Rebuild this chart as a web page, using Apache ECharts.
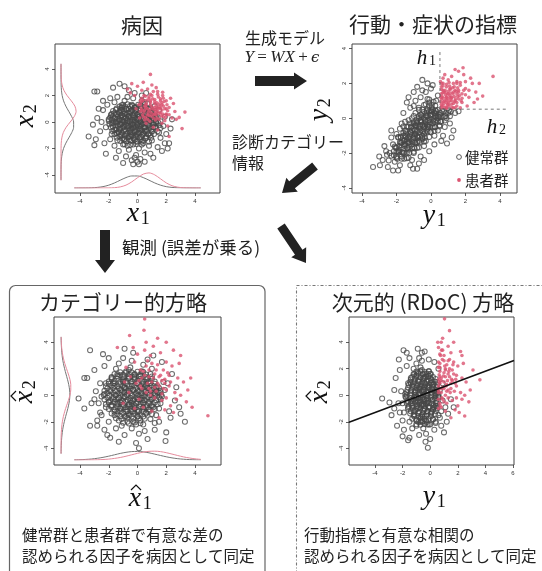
<!DOCTYPE html>
<html><head><meta charset="utf-8">
<script src="https://cdn.jsdelivr.net/npm/echarts@6/dist/echarts.min.js"></script>
<style>html,body{margin:0;padding:0;background:#fff}#c{width:542px;height:571px}</style>
</head><body><div id="c"></div>
<script>
// ---------- data ----------
const tickRange = [-4, 4];
const tickRange6 = [-4, 6];
const tickStep = 2;
const h1 = 0.52, h2 = 0.52;
const fitCoef = [0.25, 0.39]; // intercept, slope of the regression of x2-hat on y1

// Panel 1: latent causes (x1, x2)
const p1Healthy = [[-0.3,-0.2],[0.1,0.4],[-0.8,0.3],[-1.2,-0.5],[0.5,-0.7],[-0.6,-1.1],[0.2,-0.3],[-0.1,0.9],[-1.5,0.6],[-0.9,-0.2],
[0.8,0.1],[-0.4,1.3],[-1.8,-0.9],[0.3,-1.5],[-0.7,0.7],[1.1,-0.4],[-1.1,1.1],[-0.2,-0.8],[0.6,0.6],[-1.4,-1.4],
[-0.5,0.0],[0.0,-1.1],[-1.0,0.0],[0.4,0.2],[-0.3,-1.7],[-2.0,0.2],[0.9,-1.0],[-0.8,-0.7],[-1.6,1.5],[0.2,1.2],
[-0.1,-0.4],[-0.6,0.4],[1.3,0.3],[-1.3,0.2],[-0.4,-0.5],[0.7,-0.2],[-2.2,-0.4],[-0.9,1.6],[0.1,-2.0],[-1.1,-1.0],
[0.5,0.9],[-0.2,0.3],[-1.7,-0.1],[1.0,-1.4],[-0.5,-1.4],[-2.4,0.9],[0.3,-0.6],[-0.7,-0.3],[-1.2,0.9],[0.0,0.6],
[1.5,-0.8],[-0.3,1.8],[-1.9,-1.3],[0.8,-1.8],[-0.1,-1.5],[-2.6,-0.7],[1.2,0.7],[-0.8,1.0],[-1.5,-0.6],[0.4,-0.9],
[-0.6,-2.1],[0.2,0.0],[-1.0,-1.7],[1.8,-0.3],[-1.4,1.9],[-0.4,0.9],[0.6,-1.2],[-2.1,1.3],[-0.9,-1.3],[0.0,-0.2],
[-1.3,-2.2],[1.6,-1.2],[-0.2,2.2],[-2.8,0.3],[0.7,1.4],[-0.5,-0.8],[-1.8,0.6],[0.3,1.6],[-1.6,-1.8],[1.0,-0.7],
[-0.1,-2.5],[0.9,0.4],[-1.1,0.5],[-2.3,-1.6],[0.5,-2.3],[-0.7,1.9],[1.4,-1.9],[-0.3,0.5],[-1.2,-0.2],[0.1,-0.8],
[-2.5,0.0],[-0.6,2.4],[2.0,-0.9],[-1.9,1.8],[0.4,-1.6],[-0.8,-2.6],[1.3,-0.1],[-1.5,0.0],[0.2,-2.8],[-0.4,-2.9],
[-3.4,-1.1],[-3.0,-1.75],[-1.25,2.9],[-3.0,2.3],[-2.8,2.3],[0.0,-3.0],[-0.2,-2.7],[0.5,-3.0],[-1.0,-3.1],[2.2,-1.6],
[1.7,-2.2],[-2.2,-2.4],[-3.1,-0.2],[-2.7,1.0],[1.1,-2.7],[-1.7,2.6],[-0.9,2.7],[0.3,2.0],[2.3,-0.5],[1.9,-1.6],
[-2.9,-1.3],[-1.5,-2.7],[0.9,-2.4],[-0.3,-3.2],[0.1,-3.2],[2.1,-2.0],[-2.4,1.6],[-0.7,-1.8],[0.6,0.3],[-0.2,1.1],
[-1.0,1.3],[-0.5,-0.3],[0.0,0.2],[-0.9,0.6],[-0.4,-1.0],[0.3,-0.2],[-1.3,-0.8],[-0.7,0.1],[0.5,-0.4],[-0.1,0.0],
[0.8,1.0],[1.2,1.2],[0.5,1.5],[1.5,0.9],[1.0,0.5],[0.6,2.2],[1.9,0.4],[2.4,0.2],
[-1.1,1.27],[-0.7,1.34],[-0.35,1.22],[0.05,1.31],[0.4,1.38],
[-1.45,1.02],[-1.05,1.09],[-0.6,0.98],[-0.2,1.07],[0.2,1.01],[0.55,1.12],[0.9,1.04],
[-1.7,0.83],[-1.3,0.76],[-0.95,0.85],[-0.5,0.78],[-0.15,0.84],[0.3,0.75],[0.65,0.86],[1.0,0.79],
[-1.85,0.52],[-1.4,0.58],[-1.1,0.49],[-0.75,0.57],[-0.35,0.51],[0.1,0.59],[0.45,0.53],[0.8,0.56],[1.2,0.5],
[-1.9,0.33],[-1.55,0.26],[-1.2,0.35],[-0.85,0.28],[-0.45,0.32],[-0.05,0.25],[0.35,0.34],[0.7,0.27],[1.05,0.31],[1.4,0.36],
[-2.0,0.07],[-1.6,0.01],[-1.25,0.09],[-0.9,0.03],[-0.55,0.08],[-0.2,0.02],[0.2,0.06],[0.55,-0.01],[0.95,0.08],[1.3,0.03],[1.6,0.05],
[-1.95,-0.17],[-1.55,-0.24],[-1.15,-0.16],[-0.8,-0.23],[-0.4,-0.18],[0.0,-0.25],[0.4,-0.15],[0.75,-0.22],[1.1,-0.19],[1.5,-0.24],
[-1.85,-0.42],[-1.45,-0.49],[-1.05,-0.41],[-0.65,-0.47],[-0.3,-0.43],[0.1,-0.5],[0.5,-0.44],[0.85,-0.48],[1.25,-0.42],[1.6,-0.46],
[-1.75,-0.68],[-1.35,-0.74],[-0.95,-0.66],[-0.55,-0.72],[-0.15,-0.69],[0.25,-0.75],[0.65,-0.67],[1.0,-0.73],[1.4,-0.7],
[-1.6,-0.93],[-1.2,-0.99],[-0.8,-0.91],[-0.45,-0.97],[-0.05,-0.92],[0.35,-0.98],[0.75,-0.94],[1.15,-0.9],
[-1.45,-1.18],[-1.05,-1.24],[-0.65,-1.16],[-0.25,-1.22],[0.15,-1.17],[0.55,-1.23],[0.95,-1.19],
[-1.2,-1.43],[-0.8,-1.48],[-0.4,-1.41],[0.0,-1.47],[0.4,-1.42],[0.8,-1.49],
[-0.9,-1.68],[-0.5,-1.73],[-0.1,-1.66],[0.3,-1.71],
[-1.25,1.18],[-0.88,1.15],[-0.52,1.2],[-0.12,1.14],[0.25,1.19],
[-1.5,0.93],[-1.12,0.9],[-0.75,0.95],[-0.35,0.91],[0.05,0.94],[0.45,0.89],[0.8,0.92],
[-1.62,0.66],[-1.25,0.69],[-0.9,0.65],[-0.55,0.7],[-0.18,0.64],[0.22,0.68],[0.6,0.66],[0.95,0.71],
[-1.72,0.41],[-1.35,0.44],[-0.98,0.4],[-0.62,0.45],[-0.25,0.39],[0.15,0.43],[0.52,0.4],[0.9,0.44],[1.25,0.41],
[-1.78,0.16],[-1.4,0.19],[-1.05,0.15],[-0.7,0.2],[-0.32,0.14],[0.05,0.18],[0.42,0.15],[0.8,0.19],[1.15,0.16],
[-1.8,-0.09],[-1.42,-0.06],[-1.08,-0.1],[-0.72,-0.05],[-0.35,-0.11],[0.02,-0.07],[0.38,-0.1],[0.75,-0.05],[1.12,-0.09],[1.45,-0.06],
[-1.72,-0.34],[-1.35,-0.31],[-0.98,-0.35],[-0.62,-0.3],[-0.25,-0.36],[0.12,-0.32],[0.5,-0.35],[0.88,-0.3],[1.25,-0.34],
[-1.62,-0.59],[-1.25,-0.56],[-0.9,-0.6],[-0.52,-0.55],[-0.15,-0.61],[0.22,-0.57],[0.6,-0.6],[0.95,-0.56],
[-1.45,-0.84],[-1.08,-0.81],[-0.72,-0.85],[-0.35,-0.8],[0.02,-0.86],[0.4,-0.82],[0.78,-0.85],
[-1.25,-1.09],[-0.88,-1.06],[-0.5,-1.1],[-0.12,-1.05],[0.25,-1.11],[0.62,-1.07],
[-0.95,-1.34],[-0.58,-1.31],[-0.2,-1.35],[0.18,-1.3]];
const p1Patient = [[1.0,1.0],[0.6,1.4],[1.4,0.8],[0.8,0.5],[1.7,1.3],[0.3,1.8],[1.2,1.7],[2.0,0.6],[0.5,0.9],[1.5,0.2],
[0.9,2.1],[2.2,1.1],[0.1,1.3],[1.1,0.3],[1.8,1.8],[0.4,0.4],[1.3,1.2],[2.4,0.3],[0.7,2.5],[1.6,0.7],
[-0.2,2.0],[2.0,1.6],[0.9,1.5],[1.2,0.6],[0.2,0.8],[2.6,0.8],[1.9,0.1],[0.6,-0.1],[1.4,2.3],[-0.1,1.0],
[2.1,-0.3],[0.8,1.9],[1.7,-0.1],[0.3,2.4],[1.0,2.8],[2.3,1.8],[1.5,1.0],[0.0,2.7],[1.1,-0.4],[2.7,0.2],
[3.3,0.75],[2.9,0.35],[3.1,-0.5],[0.9,3.6],[-0.4,2.9],[1.75,2.0],[2.2,-1.1],[-0.7,2.5],[0.4,3.0],[1.3,2.6],
[-0.5,2.2],[2.5,1.4],[0.6,1.1],[1.8,0.4],[1.2,1.4],[0.7,0.2],[2.0,1.0],[1.6,1.6],[0.2,1.6],[1.4,-0.6],
[0.35,0.55],[0.75,0.75],[1.15,0.95],[1.55,1.2],[0.5,1.2],[0.9,1.3],[1.3,0.55],[1.7,0.9],[2.05,1.3],[0.25,1.05],
[0.65,1.65],[1.05,1.75],[1.45,1.9],[1.85,1.55],[0.45,2.0],[0.85,0.05],[1.25,0.15],[1.65,0.45],[2.1,0.85],[0.15,0.3],
[0.55,0.35],[0.95,0.7],[1.35,1.45],[1.75,2.25],[1.1,2.3],[0.7,1.0],[1.5,0.65],[1.95,0.35],[0.3,1.55],[1.2,1.1],
[0.45,0.75],[0.85,0.9],[1.25,0.75],[1.6,1.05],[0.6,1.3],[1.0,1.15],[1.4,1.05],[1.8,1.2],[0.4,1.65],[0.8,1.75],
[1.2,1.55],[1.6,1.75],[0.95,0.45],[1.35,0.3],[1.75,0.6],[0.3,0.9],[0.7,0.55],[1.1,0.55],[1.5,1.35],[1.9,1.0],
[0.55,1.95],[1.0,2.0],[1.4,2.1],[2.0,0.55],[0.2,1.35],[1.3,0.9],[0.9,1.6],[1.7,1.45],[0.5,0.15],[2.2,0.55]];

// Panel 2: behaviour / symptom indices (y1, y2)
const p2Healthy = [[-0.5,-0.4],[-1.0,-0.6],[-0.2,0.1],[-1.4,-1.2],[0.1,-0.3],[-0.8,-1.0],[-1.2,-0.3],[-0.4,-0.9],[-1.7,-1.4],[0.2,0.3],
[-0.6,0.2],[-1.1,-1.5],[-0.3,-0.2],[-1.9,-1.1],[0.0,-0.8],[-0.9,-0.4],[-1.5,-0.7],[-0.7,-1.3],[0.3,-0.1],[-1.3,-1.8],
[-0.1,0.4],[-2.0,-1.7],[-0.5,-1.2],[-0.9,0.3],[0.4,0.0],[-1.6,-2.0],[-0.2,-0.6],[-1.2,-0.9],[-0.7,0.6],[-2.2,-1.5],
[0.1,0.5],[-0.4,-1.6],[-1.8,-0.6],[-0.8,-0.2],[0.5,-0.4],[-1.4,-2.3],[-0.3,0.8],[-1.0,-1.1],[-2.4,-2.0],[0.2,-1.0],
[-0.6,-0.7],[-1.5,-0.2],[-0.1,-0.1],[-2.1,-2.5],[-0.9,1.0],[0.4,-0.7],[-1.1,0.0],[-1.7,-2.2],[-0.5,0.5],[-2.6,-1.9],
[0.0,0.2],[-0.3,-1.3],[-1.3,-1.4],[-0.8,-1.7],[0.3,0.4],[-1.9,-1.9],[-0.6,1.2],[-1.0,-2.0],[0.6,-0.2],[-2.3,-1.1],
[-0.2,1.1],[-1.4,-0.5],[-0.7,-0.5],[-1.6,-1.0],[0.5,0.2],[-0.4,0.0],[-2.8,-2.4],[0.8,-0.5],[-1.2,0.6],[-0.1,-1.9],
[-1.8,-2.7],[-0.5,1.6],[0.9,0.0],[-2.5,-2.8],[-1.0,0.7],[0.2,-1.5],[-1.5,-1.5],[-0.9,-0.9],[-0.3,1.5],[1.1,-0.3],
[-2.0,-0.9],[-0.6,-2.2],[0.7,-1.0],[-1.3,1.2],[-0.8,1.8],[-2.2,-3.0],[1.0,0.3],[-0.1,0.9],[-1.7,-0.3],[-0.4,-2.4],
[-3.36,-2.8],[-2.96,-2.7],[-2.55,-2.1],[-1.9,-3.0],[-1.04,-2.9],[1.4,0.3],[0.93,-1.45],[-1.2,-2.7],[-0.7,-2.6],[-2.7,-1.6],
[-3.0,-2.2],[1.3,-0.7],[0.6,-1.3],[-0.2,2.0],[-0.5,2.2],[-1.0,1.5],[-1.6,0.3],[0.0,1.7],[-2.3,-0.7],[-1.1,-2.4],
[1.6,0.4],[1.2,-1.1],[0.4,1.3],[0.1,1.9],[-1.4,0.9],[-0.8,-2.9],[-2.0,-2.2],[-0.2,-0.4],[-0.6,-0.1],[-1.1,-0.7],
[-0.4,-0.5],[-0.9,-1.4],[-0.2,0.5],[-1.3,-1.1],[0.2,-0.5],[-0.7,0.0],[-1.0,-0.3],[-0.5,-1.0],[0.3,0.1],[-1.6,-1.3],
[-2.3,-2.15],[-2.0,-1.92],[-1.7,-1.55],[-1.4,-1.33],[-1.1,-0.96],[-0.8,-0.72],[-0.5,-0.37],[-0.2,-0.13],[0.1,0.22],[0.4,0.47],
[-2.1,-1.62],[-1.8,-1.38],[-1.5,-1.02],[-1.2,-0.77],[-0.9,-0.43],[-0.6,-0.18],[-0.3,0.17],[0.0,0.41],[0.25,0.72],
[-2.0,-2.27],[-1.7,-1.93],[-1.4,-1.68],[-1.1,-1.32],[-0.8,-1.07],[-0.5,-0.73],[-0.2,-0.48],[0.1,-0.12],[0.4,0.13],[0.65,0.42],
[-1.9,-1.08],[-1.6,-0.83],[-1.3,-0.47],[-1.0,-0.22],[-0.7,0.12],[-0.4,0.37],[-0.1,0.73],[0.15,0.94],
[-1.7,-2.33],[-1.4,-1.98],[-1.1,-1.72],[-0.8,-1.38],[-0.5,-1.13],[-0.2,-0.77],[0.1,-0.53],[0.4,-0.18],[0.75,0.07],[1.05,0.45],
[-1.6,-0.47],[-1.3,-0.12],[-1.0,0.13],[-0.7,0.48],[-0.4,0.76],[-0.1,1.07],
[-1.3,-2.27],[-1.0,-1.93],[-0.7,-1.68],[-0.4,-1.33],[-0.1,-1.08],[0.2,-0.72],[0.5,-0.47],[0.8,-0.13],[1.1,0.12],
[-2.15,-1.9],[-1.85,-1.6],[-1.55,-1.27],[-1.25,-1.03],[-0.95,-0.68],[-0.65,-0.42],[-0.35,-0.12],[-0.05,0.18],[0.25,0.45],
[-1.85,-1.95],[-1.55,-1.6],[-1.25,-1.38],[-0.95,-1.02],[-0.65,-0.8],[-0.35,-0.45],[-0.05,-0.22],[0.25,0.12],[0.55,0.3],
[-1.75,-1.12],[-1.45,-0.87],[-1.15,-0.55],[-0.85,-0.28],[-0.55,0.05],[-0.25,0.3],[0.05,0.6],
[-1.55,-2.0],[-1.25,-1.65],[-0.95,-1.4],[-0.65,-1.06],[-0.35,-0.82],[-0.05,-0.48],[0.25,-0.22],[0.55,0.1],[0.85,0.3],
[-2.05,-1.68],[-1.75,-1.42],[-1.45,-1.08],[-1.15,-0.82],[-0.85,-0.48],[-0.55,-0.22],[-0.25,0.12],[0.05,0.38],
[-1.95,-2.32],[-1.65,-1.98],[-1.35,-1.72],[-1.05,-1.38],[-0.75,-1.12],[-0.45,-0.78],[-0.15,-0.52],[0.15,-0.18],[0.45,0.08],[0.75,0.42],
[-1.75,-1.07],[-1.45,-0.73],[-1.15,-0.47],[-0.85,-0.13],[-0.55,0.17],[-0.25,0.43],[0.05,0.77],[0.3,1.0],
[-1.55,-2.32],[-1.25,-1.98],[-0.95,-1.72],[-0.65,-1.38],[-0.35,-1.12],[-0.05,-0.78],[0.25,-0.52],[0.55,-0.18],[0.85,0.12],[1.15,0.38],
[-2.45,-2.42],[-2.15,-2.12],[-1.85,-1.82],[-1.55,-1.5],[-1.25,-1.22],[-0.95,-0.92],[-0.65,-0.6],[-0.35,-0.32],[-0.05,-0.02],[0.25,0.28]];
const p2Patient = [[0.8,1.0],[1.1,1.3],[0.7,0.7],[1.4,1.6],[0.9,1.8],[1.6,1.1],[0.6,1.4],[1.2,0.8],[2.0,1.7],[1.0,2.2],
[1.8,0.9],[0.7,2.0],[1.5,2.1],[1.3,0.6],[2.2,1.2],[0.9,0.6],[1.7,1.9],[0.6,1.1],[2.4,2.0],[1.1,1.7],
[1.9,2.5],[0.8,2.5],[1.4,1.0],[2.6,1.5],[1.0,1.4],[1.6,2.7],[0.7,1.6],[2.1,0.7],[1.2,2.4],[3.6,2.4],
[3.0,1.27],[1.86,2.9],[2.3,2.3],[1.5,0.7],[0.9,1.2],[2.8,2.0],[1.3,2.0],[0.6,0.8],[1.8,1.4],[2.5,0.9],
[1.1,1.0],[0.8,1.5],[1.5,1.4],[2.0,2.1],[1.0,0.8],[1.7,0.6],[0.7,2.3],[2.2,1.6],[1.4,2.8],[0.6,1.8],
[1.2,1.2],[0.9,0.9],[1.6,1.6],[2.7,1.1],[1.3,1.5],
[0.6,0.6],[0.75,0.85],[0.9,1.05],[1.05,0.7],[1.2,1.0],[0.65,1.25],[0.85,1.35],[1.0,1.55],[1.35,1.25],[1.5,0.9],
[0.58,0.95],[0.7,1.15],[1.15,1.45],[1.3,0.85],[0.95,0.75],[1.1,1.2],[0.8,0.62],[1.45,1.55],[1.65,1.3],[0.62,1.65],
[1.25,1.75],[0.9,1.95],[1.55,1.75],[1.8,1.15],[0.55,2.1],[2.0,1.35],[1.05,2.05],[0.75,1.5],[1.4,0.6],[1.7,2.05],
[0.62,0.7],[0.72,0.95],[0.88,1.2],[1.02,0.9],[1.18,1.15],[0.68,1.45],[0.95,1.4],[1.12,1.65],[1.28,1.4],[1.42,1.1],
[0.6,1.2],[0.82,1.6],[1.22,0.62],[1.38,0.95],[0.98,1.1],[1.55,1.25],[0.9,0.58],[1.08,1.85],[1.35,1.8],[0.7,1.85],
[1.6,1.5],[1.75,1.0],[1.5,2.0],[0.62,2.0],[1.9,1.6]];

// Panel 3: observed factors (x1-hat, x2-hat)
const p3Healthy = [[-0.3,-0.3],[0.5,0.6],[-1.2,0.4],[-1.8,-0.8],[0.8,-1.1],[-0.9,-1.6],[0.3,-0.4],[-0.2,1.3],[-2.2,0.9],[-1.3,-0.2],
[1.2,0.1],[-0.6,1.9],[-2.6,-1.3],[0.4,-2.2],[-1.0,1.0],[1.6,-0.6],[-1.6,1.6],[-0.3,-1.2],[0.9,0.9],[-2.0,-2.0],
[-0.7,0.0],[0.0,-1.6],[-1.5,0.0],[0.6,0.3],[-0.4,-2.5],[-2.9,0.3],[1.3,-1.5],[-1.2,-1.0],[-2.3,2.2],[0.3,1.8],
[-0.1,-0.6],[-0.9,0.6],[1.9,0.4],[-1.9,0.3],[-0.6,-0.7],[1.0,-0.3],[-3.2,-0.6],[-1.3,2.4],[0.1,-2.9],[-1.6,-1.5],
[0.7,1.3],[-0.3,0.4],[-2.5,-0.1],[1.5,-2.0],[-0.7,-2.0],[-3.5,1.3],[0.4,-0.9],[-1.0,-0.4],[-1.8,1.3],[0.0,0.9],
[2.2,-1.2],[-0.4,2.6],[-2.8,-1.9],[1.2,-2.6],[-0.1,-2.2],[-3.7,-1.0],[1.8,1.0],[-1.2,1.5],[-2.2,-0.9],[0.6,-1.3],
[-0.9,-3.0],[0.3,0.0],[-1.5,-2.5],[2.6,-0.4],[-2.0,2.8],[-0.6,1.3],[0.9,-1.8],[-3.0,1.9],[-1.3,-1.9],[0.0,-0.3],
[-1.9,-3.2],[2.3,-1.7],[-0.3,3.2],[-4.1,-0.25],[1.0,2.0],[-0.7,-1.2],[-2.6,0.9],[0.4,2.3],[-2.3,-2.6],[1.5,-1.0],
[-0.1,-3.6],[1.3,0.6],[-1.6,0.7],[-3.3,-2.3],[0.7,-3.3],[-1.0,2.8],[2.0,-2.8],[-0.4,0.7],[-1.7,-0.3],[0.1,-1.2],
[-3.7,1.3],[-3.3,3.4],[0.1,-4.0],[1.95,-3.45],[-2.8,-2.3],[3.3,-2.0],[2.9,-0.9],[-0.9,3.5],[1.7,2.5],[2.7,0.6],
[-2.4,3.1],[-1.3,-3.5],[0.5,-2.7],[3.0,-1.4],[-2.1,-3.0],[1.1,3.0],[-3.0,-0.3],[-2.5,-1.5],[2.4,1.6],[0.8,-0.6],
[-0.5,-0.4],[-1.1,0.2],[0.2,0.6],[-0.8,-0.9],[0.5,-0.1],[-1.4,-0.6],[-0.2,-1.0],[-1.0,1.1],[0.3,1.1],[-0.6,-1.5],
[1.1,-0.9],[-1.7,0.9],[0.0,0.3],[-0.9,-0.1],[0.6,0.8],[-1.4,-1.2],[-0.2,1.6],[1.4,0.2],[-2.0,-0.5],[0.9,1.6],
[-0.5,2.1],[-1.1,-2.3],[1.7,-0.1],[-2.3,0.1],[0.2,-1.9],[-0.8,1.7],[1.2,-2.1],[-2.7,-0.6],[-0.3,-2.0],[0.7,2.7],
[2.1,0.9],[-1.5,2.0],[-0.1,0.1],[-0.6,0.3],[0.4,-0.6],[-1.2,-0.5],[0.1,1.4],[-0.4,-0.8],[1.0,0.4],[-0.8,0.5],
[-1.2,1.73],[-0.8,1.79],[-0.4,1.71],[0.0,1.77],[0.4,1.75],
[-1.8,1.38],[-1.4,1.44],[-1.0,1.36],[-0.6,1.42],[-0.2,1.39],[0.2,1.45],[0.6,1.37],[1.0,1.41],
[-2.0,1.03],[-1.6,1.08],[-1.2,1.01],[-0.8,1.07],[-0.4,1.04],[0.0,1.09],[0.4,1.02],[0.8,1.06],[1.2,1.03],
[-2.2,0.68],[-1.8,0.74],[-1.4,0.67],[-1.0,0.72],[-0.6,0.69],[-0.2,0.75],[0.2,0.66],[0.6,0.71],[1.0,0.73],[1.4,0.68],
[-2.3,0.33],[-1.9,0.38],[-1.5,0.31],[-1.1,0.37],[-0.7,0.34],[-0.3,0.39],[0.1,0.32],[0.5,0.36],[0.9,0.33],[1.3,0.38],[1.6,0.31],
[-2.35,0.02],[-1.95,-0.03],[-1.55,0.04],[-1.15,-0.02],[-0.75,0.03],[-0.35,-0.04],[0.05,0.01],[0.45,-0.03],[0.85,0.04],[1.25,-0.01],[1.65,0.03],
[-2.3,-0.33],[-1.9,-0.38],[-1.5,-0.31],[-1.1,-0.37],[-0.7,-0.34],[-0.3,-0.39],[0.1,-0.32],[0.5,-0.36],[0.9,-0.33],[1.3,-0.38],[1.6,-0.31],
[-2.2,-0.68],[-1.8,-0.74],[-1.4,-0.67],[-1.0,-0.72],[-0.6,-0.69],[-0.2,-0.75],[0.2,-0.66],[0.6,-0.71],[1.0,-0.73],[1.4,-0.68],
[-2.0,-1.03],[-1.6,-1.08],[-1.2,-1.01],[-0.8,-1.07],[-0.4,-1.04],[0.0,-1.09],[0.4,-1.02],[0.8,-1.06],[1.2,-1.03],
[-1.8,-1.38],[-1.4,-1.44],[-1.0,-1.36],[-0.6,-1.42],[-0.2,-1.39],[0.2,-1.45],[0.6,-1.37],[1.0,-1.41],
[-1.5,-1.73],[-1.1,-1.79],[-0.7,-1.71],[-0.3,-1.77],[0.1,-1.74],[0.5,-1.78],
[-1.0,-2.08],[-0.6,-2.13],[-0.2,-2.06],[0.2,-2.11],
[-1.4,1.58],[-1.0,1.55],[-0.6,1.6],[-0.2,1.54],[0.2,1.59],[0.6,1.56],
[-1.8,1.21],[-1.4,1.24],[-1.0,1.2],[-0.6,1.25],[-0.2,1.19],[0.2,1.23],[0.6,1.2],[1.0,1.24],
[-2.0,0.86],[-1.6,0.89],[-1.2,0.85],[-0.8,0.9],[-0.4,0.84],[0.0,0.88],[0.4,0.85],[0.8,0.89],[1.2,0.86],
[-2.1,0.51],[-1.7,0.54],[-1.3,0.5],[-0.9,0.55],[-0.5,0.49],[-0.1,0.53],[0.3,0.5],[0.7,0.54],[1.1,0.51],[1.5,0.55],
[-2.1,0.16],[-1.7,0.19],[-1.3,0.15],[-0.9,0.2],[-0.5,0.14],[-0.1,0.18],[0.3,0.15],[0.7,0.19],[1.1,0.16],[1.5,0.2],
[-2.1,-0.19],[-1.7,-0.16],[-1.3,-0.2],[-0.9,-0.15],[-0.5,-0.21],[-0.1,-0.17],[0.3,-0.2],[0.7,-0.15],[1.1,-0.19],[1.5,-0.16],
[-2.0,-0.54],[-1.6,-0.51],[-1.2,-0.55],[-0.8,-0.5],[-0.4,-0.56],[0.0,-0.52],[0.4,-0.55],[0.8,-0.5],[1.2,-0.54],
[-1.8,-0.89],[-1.4,-0.86],[-1.0,-0.9],[-0.6,-0.85],[-0.2,-0.91],[0.2,-0.87],[0.6,-0.9],[1.0,-0.86],
[-1.6,-1.24],[-1.2,-1.21],[-0.8,-1.25],[-0.4,-1.2],[0.0,-1.26],[0.4,-1.22],[0.8,-1.25],
[-1.2,-1.59],[-0.8,-1.56],[-0.4,-1.6],[0.0,-1.55],[0.4,-1.61]];
const p3Patient = [[1.0,1.0],[0.4,1.8],[1.8,0.5],[0.6,0.2],[2.2,1.5],[-0.2,2.5],[1.4,2.3],[2.6,0.2],[0.2,0.7],[1.7,-0.4],
[0.9,3.0],[2.8,1.3],[-0.5,1.4],[1.2,-0.2],[2.0,2.5],[0.1,-0.3],[1.5,1.4],[3.0,0.0],[0.5,3.4],[1.9,0.9],
[-0.8,2.1],[2.4,2.2],[0.8,1.9],[1.3,0.3],[-0.1,0.9],[3.2,1.0],[2.3,-0.8],[0.4,-0.9],[1.6,3.2],[-0.6,0.2],
[2.5,-1.3],[0.7,2.6],[2.0,-0.2],[0.0,3.1],[1.1,3.7],[2.9,2.4],[1.7,1.1],[-0.3,3.6],[1.0,-1.2],[3.4,-0.5],
[0.5,5.75],[0.45,4.9],[4.9,-1.55],[-0.55,4.5],[3.7,1.3],[3.8,-0.9],[2.0,4.0],[-1.4,3.6],[1.4,4.3],[3.0,3.0],
[-1.0,-0.6],[2.2,0.7],[0.3,1.3],[1.2,1.6],[1.8,1.9],[0.8,0.5],[2.7,-0.3],[-0.2,-1.0],[1.5,-1.7],[3.5,0.4],
[0.6,4.0],[2.5,3.4],[-0.9,1.0],[1.9,-1.1],[0.9,0.0],
[0.3,0.5],[0.7,0.9],[1.1,1.3],[1.5,0.7],[1.9,1.2],[0.5,1.5],[0.9,0.3],[1.3,1.9],[1.7,0.1],[2.1,1.7],
[0.1,1.1],[0.6,2.2],[1.2,0.6],[1.6,1.5],[2.3,1.0],[0.2,1.9],[0.8,1.4],[1.4,0.9],[2.0,0.4],[1.0,2.4]];

// Panel 4: (y1, x2-hat)
const p4Healthy = [[-0.5,-0.3],[-0.1,0.6],[-0.9,0.4],[-1.3,-0.8],[0.2,-1.1],[-0.7,-1.6],[-0.3,-0.4],[-0.4,1.3],[-1.6,0.9],[-1.0,-0.2],
[0.4,0.1],[-0.6,1.9],[-1.9,-1.3],[0.0,-2.2],[-0.8,1.0],[0.5,-0.6],[-1.2,1.6],[-0.2,-1.2],[0.1,0.9],[-1.5,-2.0],
[-0.7,0.0],[-0.4,-1.6],[-1.1,0.0],[0.3,0.3],[-0.5,-2.5],[-2.1,0.3],[0.6,-1.5],[-0.9,-1.0],[-1.7,2.2],[-0.1,1.8],
[-0.3,-0.6],[-0.8,0.6],[0.7,0.4],[-1.4,0.3],[-0.6,-0.7],[0.2,-0.3],[-2.3,-0.6],[-1.0,2.4],[-0.3,-2.9],[-1.2,-1.5],
[0.0,1.3],[-0.5,0.4],[-1.8,-0.1],[0.4,-2.0],[-0.7,-2.0],[-0.2,0.7],[-0.1,-0.9],[-0.9,-0.4],[-1.4,1.3],[-0.4,0.9],
[0.8,-1.2],[-0.6,2.6],[-2.0,-1.9],[0.3,-2.6],[-0.2,-2.2],[-2.6,-1.0],[0.5,1.0],[-1.0,1.5],[-1.6,-0.9],[0.1,-1.3],
[-0.8,-3.0],[-0.3,0.0],[-1.3,-2.5],[0.9,-0.4],[-1.5,2.8],[-0.5,1.3],[0.2,-1.8],[-2.2,1.9],[-1.0,-1.9],[-0.4,-0.3],
[-1.5,-3.2],[0.7,-1.7],[-0.6,3.2],[-3.48,-0.25],[-2.95,-0.55],[-2.27,2.7],[-1.93,3.4],[-0.17,-3.96],[-0.34,-3.5],[-2.0,-3.1],
[-1.9,-2.6],[0.4,-0.8],[-1.2,0.7],[-2.4,-2.3],[0.0,-3.3],[-0.8,2.8],[1.0,-2.8],[-0.6,0.7],[-1.2,-0.3],[-0.2,-1.2],
[-2.5,1.3],[-1.7,3.2],[-0.4,3.3],[1.2,-2.0],[-1.6,-3.4],[1.1,-0.9],[-0.9,3.5],[0.3,2.5],[-2.8,-1.5],[0.6,2.0],
[-0.7,-0.5],[-1.1,0.2],[-0.2,0.6],[-0.8,-0.9],[0.1,-0.1],[-1.3,-0.6],[-0.4,-1.0],[-0.9,1.1],[-0.1,1.1],[-0.6,-1.5],
[0.3,-0.9],[-1.4,0.9],[-0.3,0.3],[-1.0,-0.1],[0.2,0.8],[-1.2,-1.2],[-0.5,1.6],[0.5,0.2],[-1.6,-0.5],[0.0,1.6],
[-0.7,2.1],[-1.0,-2.3],[0.6,-0.1],[-1.8,0.1],[-0.3,-1.9],[-0.9,1.7],[0.4,-2.1],[-2.0,-0.6],[-0.6,-2.0],[-0.1,2.7],
[0.9,0.9],[-1.2,2.0],[-0.4,0.1],[-0.6,0.3],[-0.1,-0.6],[-0.9,-0.5],[-0.3,1.4],[-0.5,-0.8],[0.3,0.4],[-0.8,0.5],
[1.5,-0.3],[1.3,-1.4],[0.8,-2.3],[1.7,-0.9],[-2.2,-1.3],[-2.6,0.4],
[-1.0,1.78],[-0.7,1.83],[-0.4,1.76],[-0.1,1.81],
[-1.3,1.38],[-1.0,1.43],[-0.7,1.36],[-0.4,1.41],[-0.1,1.44],[0.2,1.37],
[-1.45,1.02],[-1.15,0.97],[-0.85,1.04],[-0.55,0.98],[-0.25,1.03],[0.05,0.96],[0.35,1.01],
[-1.6,0.58],[-1.3,0.63],[-1.0,0.56],[-0.7,0.61],[-0.4,0.64],[-0.1,0.57],[0.2,0.62],[0.45,0.59],
[-1.7,0.22],[-1.4,0.17],[-1.1,0.24],[-0.8,0.18],[-0.5,0.23],[-0.2,0.16],[0.1,0.21],[0.4,0.19],
[-1.75,-0.18],[-1.45,-0.23],[-1.15,-0.16],[-0.85,-0.22],[-0.55,-0.17],[-0.25,-0.24],[0.05,-0.19],[0.35,-0.21],[0.6,-0.16],
[-1.7,-0.58],[-1.4,-0.63],[-1.1,-0.56],[-0.8,-0.61],[-0.5,-0.64],[-0.2,-0.57],[0.1,-0.62],[0.4,-0.59],
[-1.6,-1.02],[-1.3,-0.97],[-1.0,-1.04],[-0.7,-0.98],[-0.4,-1.03],[-0.1,-0.96],[0.2,-1.01],[0.5,-0.99],
[-1.45,-1.38],[-1.15,-1.43],[-0.85,-1.36],[-0.55,-1.41],[-0.25,-1.44],[0.05,-1.37],[0.35,-1.42],
[-1.3,-1.78],[-1.0,-1.83],[-0.7,-1.76],[-0.4,-1.81],[-0.1,-1.79],[0.2,-1.84],
[-1.0,-2.18],[-0.7,-2.23],[-0.4,-2.16],[-0.1,-2.21],
[-1.15,1.59],[-0.85,1.62],[-0.55,1.58],[-0.25,1.63],[0.05,1.6],
[-1.4,1.19],[-1.1,1.22],[-0.8,1.18],[-0.5,1.23],[-0.2,1.2],[0.1,1.17],[0.4,1.22],
[-1.55,0.79],[-1.25,0.82],[-0.95,0.78],[-0.65,0.83],[-0.35,0.8],[-0.05,0.77],[0.25,0.82],[0.5,0.79],
[-1.65,0.39],[-1.35,0.42],[-1.05,0.38],[-0.75,0.43],[-0.45,0.4],[-0.15,0.37],[0.15,0.42],[0.45,0.39],
[-1.7,-0.01],[-1.4,0.02],[-1.1,-0.02],[-0.8,0.03],[-0.5,0.0],[-0.2,-0.03],[0.1,0.02],[0.4,-0.01],[0.6,0.03],
[-1.65,-0.41],[-1.35,-0.38],[-1.05,-0.42],[-0.75,-0.37],[-0.45,-0.4],[-0.15,-0.43],[0.15,-0.38],[0.45,-0.41],
[-1.55,-0.81],[-1.25,-0.78],[-0.95,-0.82],[-0.65,-0.77],[-0.35,-0.8],[-0.05,-0.83],[0.25,-0.78],[0.5,-0.81],
[-1.4,-1.21],[-1.1,-1.18],[-0.8,-1.22],[-0.5,-1.17],[-0.2,-1.2],[0.1,-1.23],[0.4,-1.18],
[-1.15,-1.61],[-0.85,-1.58],[-0.55,-1.62],[-0.25,-1.57],[0.05,-1.6],
[-0.85,-2.01],[-0.55,-1.98],[-0.25,-2.02]];
const p4Patient = [[1.0,1.0],[0.7,1.8],[1.5,0.5],[0.8,0.2],[1.9,1.5],[0.6,2.5],[1.2,2.3],[2.2,0.2],[0.6,0.7],[1.6,-0.4],
[1.0,3.0],[2.3,1.3],[0.7,1.4],[1.3,-0.2],[1.7,2.5],[0.9,-0.3],[1.4,1.4],[2.5,0.0],[0.9,3.4],[1.8,0.9],
[0.6,2.1],[2.0,2.2],[1.1,1.9],[1.2,0.3],[0.7,0.9],[2.6,1.0],[2.0,-0.8],[0.8,-0.9],[1.5,3.2],[0.6,0.2],
[2.1,-1.3],[1.0,2.6],[1.9,-0.2],[0.7,3.1],[1.3,3.7],[2.4,2.4],[1.6,1.1],[0.6,3.6],[1.1,-1.2],[2.8,-0.5],
[1.04,5.76],[1.4,4.87],[2.2,3.3],[3.6,1.16],[3.1,1.9],[2.5,-1.56],[0.55,4.0],[0.9,4.3],[1.7,4.0],[2.3,3.0],
[0.7,-0.6],[1.9,0.7],[0.8,1.3],[1.3,1.6],[1.6,1.9],[1.0,0.5],[2.3,-0.3],[0.6,-1.0],[1.5,-1.7],[2.9,0.4],
[0.8,4.0],[1.4,2.7],[0.65,1.0],[1.8,-1.1],[1.1,0.0],
[0.6,0.4],[0.8,1.1],[1.0,1.7],[1.2,0.8],[1.4,2.0],[0.7,2.4],[0.9,0.6],[1.1,1.4],[1.3,2.6],[1.5,0.9],
[1.7,1.6],[0.65,1.55],[0.85,-0.2],[1.05,2.2],[1.25,1.1],[1.45,0.2],[1.65,2.3],[1.85,1.2],[0.75,3.0],[1.2,-0.6],
[0.62,1.2],[0.78,0.5],[0.95,1.45],[1.15,0.7],[1.35,1.8],[0.7,2.1],[0.88,2.7],[1.1,2.0],[1.3,0.4],[0.6,-0.3],
[1.55,1.2],[0.72,-0.8],[1.0,-0.5],[1.75,0.3],[0.82,3.4]];

// Marginal density curves (value grid and densities)
const densX = [-4.4,-4.0,-3.6,-3.2,-2.8,-2.4,-2.0,-1.6,-1.2,-0.8,-0.4,0.0,0.4,0.8,1.2,1.6,2.0,2.4,2.8,3.2,3.6,4.0,4.4];
const p1BottomHealthy = [0.000,0.001,0.002,0.006,0.018,0.042,0.088,0.157,0.242,0.323,0.373,0.373,0.323,0.242,0.157,0.088,0.042,0.018,0.006,0.002,0.001,0.000,0.000];
const p1BottomPatient = [0.000,0.000,0.000,0.000,0.000,0.001,0.003,0.010,0.034,0.089,0.189,0.319,0.431,0.468,0.407,0.285,0.159,0.071,0.026,0.007,0.002,0.000,0.000];
const p1LeftHealthy   = [0.000,0.000,0.001,0.004,0.014,0.036,0.079,0.150,0.242,0.333,0.391,0.391,0.333,0.242,0.150,0.079,0.036,0.014,0.004,0.001,0.000,0.000,0.000];
const p1LeftPatient   = [0.000,0.000,0.000,0.000,0.000,0.000,0.002,0.007,0.026,0.071,0.159,0.285,0.407,0.468,0.431,0.319,0.189,0.089,0.034,0.010,0.003,0.001,0.000];
const p3BottomHealthy = [0.004,0.009,0.018,0.031,0.053,0.082,0.119,0.161,0.204,0.238,0.261,0.265,0.252,0.222,0.182,0.140,0.100,0.066,0.041,0.024,0.013,0.006,0.003];
const p3BottomPatient = [0.000,0.001,0.002,0.003,0.007,0.015,0.028,0.049,0.078,0.117,0.162,0.206,0.245,0.269,0.274,0.260,0.227,0.184,0.139,0.096,0.063,0.037,0.020];
const p3LeftHealthy   = [0.003,0.006,0.012,0.022,0.040,0.066,0.102,0.144,0.190,0.231,0.262,0.275,0.267,0.240,0.201,0.155,0.112,0.074,0.045,0.026,0.014,0.007,0.003];
const p3LeftPatient   = [0.000,0.001,0.002,0.004,0.010,0.021,0.042,0.074,0.118,0.171,0.228,0.276,0.303,0.303,0.276,0.228,0.171,0.118,0.074,0.042,0.021,0.010,0.004];

// ---------- styles ----------
const GRAY = '#474747', PINK = '#DB5470';
const DGRAY = '#777777', DPINK = '#e58b9c';
const JP = '"Noto Sans CJK JP","Noto Sans",sans-serif';
const SERIF = '"Liberation Serif","DejaVu Serif",serif';

const boxes = [
  {L:55, T:44, W:165, H:149, x:[-5.74, 5.74], y:[-5.37, 5.9], tx:tickRange},
  {L:352, T:44, W:165, H:149, x:[-4.58, 4.99], y:[-4.29, 4.26], tx:tickRange},
  {L:54, T:317, W:167, H:148, x:[-5.81, 5.81], y:[-5.26, 5.9], tx:tickRange},
  {L:349, T:317, W:165, H:148, x:[-5.88, 6.07], y:[-5.26, 5.9], tx:tickRange6}
];
const DMAX = 0.62;
const base = {containLabel:false, outerBoundsMode:'none', backgroundColor:'transparent'};
const grids = [], xAxes = [], yAxes = [];
function hid(gi, min, max) {
  return {gridIndex:gi, type:'value', min, max, show:false, splitLine:{show:false}, axisLine:{show:false, onZero:false}};
}
function addGrid(g, xr, yr) {
  grids.push(Object.assign({}, base, g));
  const gi = grids.length - 1;
  xAxes.push(hid(gi, xr[0], xr[1])); yAxes.push(hid(gi, yr[0], yr[1]));
  return gi;
}
const mainIdx = boxes.map(b => addGrid({left:b.L, top:b.T, width:b.W, height:b.H, show:true, borderColor:'#444', borderWidth:1}, b.x, b.y));
const m1b = addGrid({left:55, top:168, width:165, height:20}, boxes[0].x, [0, DMAX]);
const m1l = addGrid({left:61, top:44, width:20, height:149}, [0, DMAX], boxes[0].y);
const m3b = addGrid({left:54, top:440, width:167, height:20}, boxes[2].x, [0, DMAX]);
const m3l = addGrid({left:61, top:317, width:20, height:148}, [0, DMAX], boxes[2].y);
// tick grids: span exactly the tick range; axes pushed out to the frame edges
boxes.forEach(b => {
  const px = v => b.L + (v - b.x[0]) / (b.x[1] - b.x[0]) * b.W;
  const py = v => b.T + (b.y[1] - v) / (b.y[1] - b.y[0]) * b.H;
  const gl = px(b.tx[0]), gr = px(b.tx[1]), gt = py(tickRange[1]), gb = py(tickRange[0]);
  grids.push(Object.assign({}, base, {left:gl, top:gt, width:gr - gl, height:gb - gt, show:false}));
  const gi = grids.length - 1;
  const tick = {show:true, length:3, lineStyle:{color:'#333', width:0.8}};
  xAxes.push({gridIndex:gi, type:'value', min:b.tx[0], max:b.tx[1], interval:tickStep, position:'bottom',
    offset:(b.T + b.H) - gb, axisLine:{show:false, onZero:false}, splitLine:{show:false}, axisTick:tick,
    axisLabel:{fontSize:6, color:'#333', margin:5, fontFamily:'Liberation Sans'}});
  yAxes.push({gridIndex:gi, type:'value', min:tickRange[0], max:tickRange[1], interval:tickStep, position:'left',
    offset:gl - b.L, axisLine:{show:false, onZero:false}, splitLine:{show:false}, axisTick:tick,
    axisLabel:{fontSize:6, color:'#333', margin:5, rotate:90, fontFamily:'Liberation Sans'}});
});

function healthy(ai, data) {
  return {type:'scatter', xAxisIndex:ai, yAxisIndex:ai, data, symbol:'circle', symbolSize:5, silent:true,
    itemStyle:{color:'rgba(255,255,255,0)', borderColor:GRAY, borderWidth:1.05}};
}
function patient(ai, data) {
  return {type:'scatter', xAxisIndex:ai, yAxisIndex:ai, data, symbol:'circle', symbolSize:3.6, silent:true,
    itemStyle:{color:PINK}};
}
function densBottom(ai, dens, color) {
  return {type:'line', xAxisIndex:ai, yAxisIndex:ai, data: densX.map((x, i) => [x, dens[i]]),
    showSymbol:false, smooth:0.3, silent:true, lineStyle:{color, width:1}};
}
function densLeft(ai, dens, color) {
  return {type:'line', xAxisIndex:ai, yAxisIndex:ai, data: densX.map((y, i) => [dens[i], y]),
    showSymbol:false, smooth:0.3, silent:true, lineStyle:{color, width:1}};
}
const P4X = boxes[3].x;
const series = [
  healthy(mainIdx[0], p1Healthy), patient(mainIdx[0], p1Patient),
  densBottom(m1b, p1BottomHealthy, DGRAY), densBottom(m1b, p1BottomPatient, DPINK),
  densLeft(m1l, p1LeftHealthy, DGRAY), densLeft(m1l, p1LeftPatient, DPINK),
  healthy(mainIdx[1], p2Healthy), patient(mainIdx[1], p2Patient),
  {type:'line', xAxisIndex:mainIdx[1], yAxisIndex:mainIdx[1], data:[[h1, 3.8],[h1, h2],[4.45, h2]], showSymbol:false, silent:true,
    lineStyle:{color:'#555', width:0.8, type:[3,3]}},
  healthy(mainIdx[2], p3Healthy), patient(mainIdx[2], p3Patient),
  densBottom(m3b, p3BottomHealthy, DGRAY), densBottom(m3b, p3BottomPatient, DPINK),
  densLeft(m3l, p3LeftHealthy, DGRAY), densLeft(m3l, p3LeftPatient, DPINK),
  healthy(mainIdx[3], p4Healthy), patient(mainIdx[3], p4Patient),
  {type:'line', xAxisIndex:mainIdx[3], yAxisIndex:mainIdx[3], showSymbol:false, silent:true,
    data:[[P4X[0], fitCoef[0] + fitCoef[1]*P4X[0]], [P4X[1], fitCoef[0] + fitCoef[1]*P4X[1]]],
    lineStyle:{color:'#111', width:1.6}}
];

function txt(x, y, text, size, align) {
  return {type:'text', x, y, silent:true, style:{text, font:size + 'px ' + JP, fill:'#222',
    align:align || 'center', verticalAlign:'middle'}};
}
function arrow(tx, ty, hx, hy, sw, hw, hl) {
  const dx = hx - tx, dy = hy - ty, L = Math.hypot(dx, dy);
  const ux = dx / L, uy = dy / L, nx = -uy, ny = ux;
  const sx = hx - ux*hl, sy = hy - uy*hl;
  const pts = [
    [tx + nx*sw/2, ty + ny*sw/2], [sx + nx*sw/2, sy + ny*sw/2], [sx + nx*hw/2, sy + ny*hw/2],
    [hx, hy],
    [sx - nx*hw/2, sy - ny*hw/2], [sx - nx*sw/2, sy - ny*sw/2], [tx - nx*sw/2, ty - ny*sw/2]];
  return {type:'polygon', silent:true, shape:{points:pts}, style:{fill:'#222'}};
}
function math(cx, cy, b, sub, rotated, hat, size) {
  size = size || 28;
  const children = [
    {type:'text', x:-5, y:0, style:{text:b, font:'italic ' + size + 'px ' + SERIF, fill:'#111', align:'center', verticalAlign:'middle'}},
    {type:'text', x:size*0.26, y:size*0.18, style:{text:sub, font:Math.round(size*0.66) + 'px ' + SERIF, fill:'#111', align:'center', verticalAlign:'middle'}}
  ];
  if (hat) children.push({type:'polyline', shape:{points:[[-9,-9],[-4,-14],[1,-9]]}, style:{stroke:'#111', lineWidth:1.2, fill:null}});
  return {type:'group', x:cx, y:cy, rotation: rotated ? Math.PI/2 : 0, silent:true, children};
}

const graphics = [
  {type:'rect', silent:true, shape:{x:9.5, y:285.5, width:255.5, height:330, r:6}, style:{fill:null, stroke:'#666', lineWidth:1.2}},
  {type:'rect', silent:true, shape:{x:296.5, y:285.5, width:270, height:330}, style:{fill:null, stroke:'#777', lineWidth:1.1, lineDash:[3,2,1,2]}},
  txt(142, 25, '病因', 21),
  txt(433, 24, '行動・症状の指標', 21),
  txt(123, 302, 'カテゴリー的方略', 21),
  txt(423, 302, '次元的 (RDoC) 方略', 21),
  txt(285, 38, '生成モデル', 16),
  {type:'text', x:282, y:58, silent:true, style:{align:'center', verticalAlign:'middle', fill:'#222',
    text:'{i|Y} {r|=} {i|WX} {r|+} {e|ϵ}',
    rich:{i:{font:'italic 17px ' + SERIF, fill:'#222'}, r:{font:'17px ' + SERIF, fill:'#222'},
          e:{font:'italic 15px "DejaVu Serif",serif', fill:'#222'}}}},
  txt(232, 142, '診断カテゴリー', 16, 'left'),
  txt(232, 163, '情報', 16, 'left'),
  txt(122, 247, '観測 (誤差が乗る)', 17.5, 'left'),
  txt(22, 535, '健常群と患者群で有意な差の', 15.5, 'left'),
  txt(22, 556, '認められる因子を病因として同定', 15.5, 'left'),
  txt(304, 535, '行動指標と有意な相関の', 15.5, 'left'),
  txt(304, 556, '認められる因子を病因として同定', 15.5, 'left'),
  {type:'circle', silent:true, shape:{cx:459, cy:157, r:2.4}, style:{fill:'#fff', stroke:GRAY, lineWidth:0.9}},
  txt(465, 157, '健常群', 14.5, 'left'),
  {type:'circle', silent:true, shape:{cx:459, cy:180, r:1.9}, style:{fill:PINK}},
  txt(465, 180, '患者群', 14.5, 'left'),
  arrow(255, 81, 307, 81, 10, 17, 13),
  arrow(105, 230, 105, 273, 10, 20, 13),
  arrow(315, 166, 282, 193, 9, 18, 13),
  arrow(281, 226, 306, 263, 9, 18, 13),
  math(138, 214, 'x', '1', false, false),
  math(26, 116, 'x', '2', true, false),
  math(434, 216, 'y', '1', false, false),
  math(320, 110, 'y', '2', true, false),
  math(140, 499, 'x', '1', false, true),
  math(25, 392, 'x', '2', true, true),
  math(434, 497, 'y', '1', false, false),
  math(320, 392, 'x', '2', true, true),
  math(427, 58, 'h', '1', false, false, 21),
  math(497, 127, 'h', '2', false, false, 21)
];

const chart = echarts.init(document.getElementById('c'), null, {renderer:'canvas'});
chart.setOption({
  animation:false, backgroundColor:'#fff',
  grid:grids, xAxis:xAxes, yAxis:yAxes, series, graphic:graphics
});
</script>
</body></html>
